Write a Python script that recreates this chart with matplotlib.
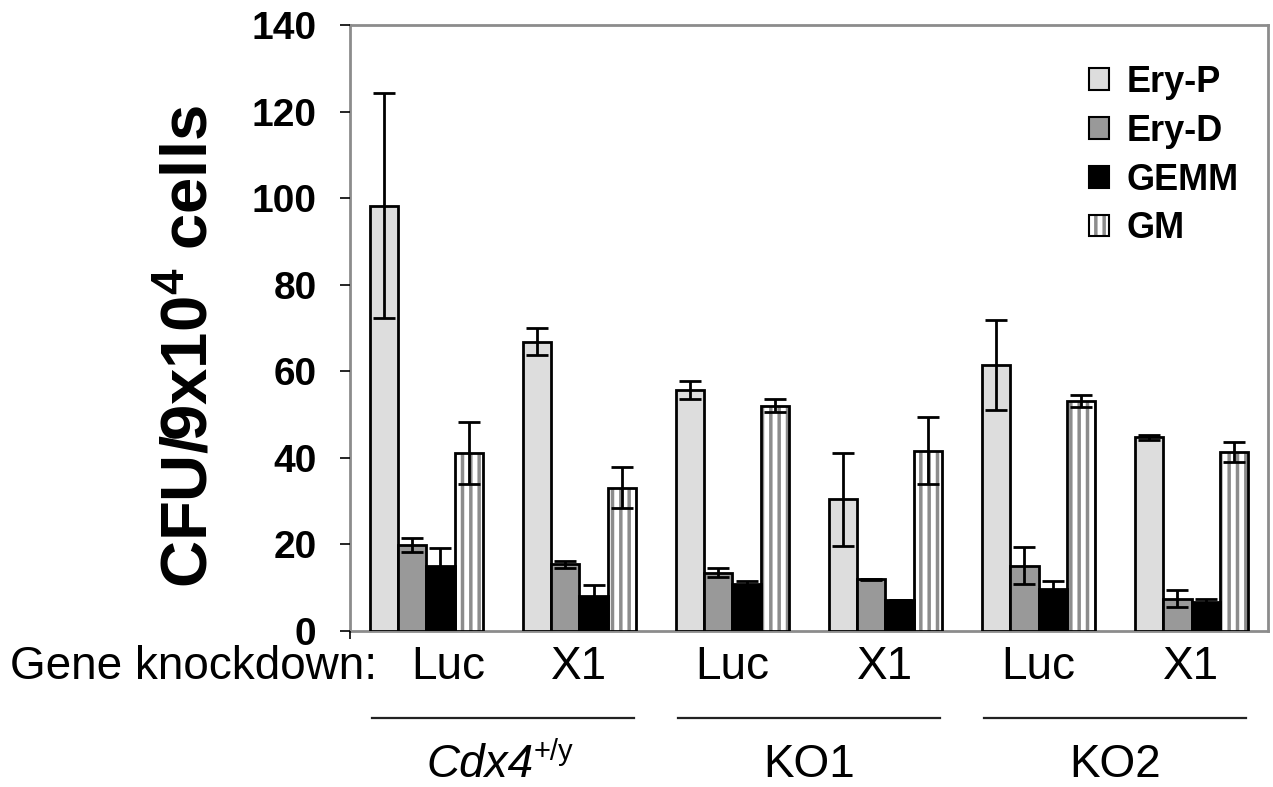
import numpy as np
import matplotlib
matplotlib.use('Agg')
import matplotlib.pyplot as plt
from matplotlib.patches import Patch
import matplotlib.transforms as mtransforms

plt.rcParams['font.family'] = ['Liberation Sans', 'DejaVu Sans']
plt.rcParams['mathtext.fontset'] = 'custom'
plt.rcParams['mathtext.rm'] = 'Liberation Sans'
plt.rcParams['mathtext.it'] = 'Liberation Sans:italic'
plt.rcParams['mathtext.bf'] = 'Liberation Sans:bold'
plt.rcParams['hatch.linewidth'] = 2.5

# colony counts per 9x10^4 cells, one entry per knockdown condition
genotypes = ['Cdx4', 'KO1', 'KO2']
knockdowns = ['Luc', 'X1', 'Luc', 'X1', 'Luc', 'X1']
series = ['Ery-P', 'Ery-D', 'GEMM', 'GM']

ery_p = [98.2, 66.8, 55.6, 30.4, 61.5, 44.8]
ery_p_err = [26.0, 3.1, 2.1, 10.7, 10.4, 0.6]
ery_d = [19.8, 15.4, 13.5, 12.0, 15.1, 7.5]
ery_d_err = [1.6, 0.8, 1.0, 0.1, 4.3, 2.0]
gemm = [15.0, 8.0, 10.8, 7.2, 9.7, 6.8]
gemm_err = [4.2, 2.7, 0.8, 0.0, 1.9, 0.7]
gm = [41.1, 33.1, 52.1, 41.7, 53.1, 41.3]
gm_err = [7.1, 4.7, 1.4, 7.7, 1.4, 2.3]

values = [ery_p, ery_d, gemm, gm]
errors = [ery_p_err, ery_d_err, gemm_err, gm_err]
fills = ['#dddddd', '#999999', '#000000', '#ffffff']
stripe = '#8c8c8c'

fig = plt.figure(figsize=(12.73, 7.87), dpi=100)
ax = fig.add_axes([0.2749, 0.1982, 0.7212, 0.7700])

x = np.arange(len(knockdowns))
w = 0.1835
for i in range(len(series)):
    xs = x + (i - 1.5) * w
    if series[i] == 'GM':
        # striped fill first, black outline on top
        ax.bar(xs, values[i], w, color='white', edgecolor=stripe,
               hatch='||', linewidth=0, zorder=2)
        ax.bar(xs, values[i], w, fill=False, edgecolor='black',
               linewidth=2, zorder=3)
    else:
        ax.bar(xs, values[i], w, color=fills[i], edgecolor='black',
               linewidth=2, zorder=3)
    ax.errorbar(xs, values[i], yerr=errors[i], fmt='none', ecolor='black',
                elinewidth=2, capsize=8, capthick=2, zorder=4)

ax.set_xlim(-0.5, 5.5)
ax.set_ylim(0, 140)
ax.set_yticks(np.arange(0, 141, 20))
ax.set_yticklabels([str(v) for v in range(0, 141, 20)],
                   fontsize=28, fontweight='bold')
ax.tick_params(axis='y', length=7, width=1.2, pad=17, color='black')
ax.set_xticks([-0.5])
ax.set_xticklabels([''])
ax.tick_params(axis='x', length=6, width=1.2, color='black')
for s in ax.spines.values():
    s.set_color(stripe)
    s.set_linewidth(2)
    s.set_zorder(1)

fig.text(190 / 1273, 0.559, 'CFU/9x10$^\\mathbf{4}$ cells', rotation=90,
         ha='center', va='center', fontsize=47, fontweight='bold')

# knockdown labels under each bar group
trans = mtransforms.blended_transform_factory(ax.transData, fig.transFigure)
for i, lab in enumerate(knockdowns):
    xi = x[i] + (0.14 if i == 0 else 0)
    ax.text(xi, 0.153, lab, transform=trans, ha='center', va='center',
            fontsize=33)
fig.text(0.008, 0.153, 'Gene knockdown:', ha='left', va='center', fontsize=33)

# genotype brackets
for g in range(len(genotypes)):
    c = 2 * g + 0.5
    ax.plot([c - 0.855, c + 0.855], [0.0877, 0.0877], transform=trans,
            color='#222222', lw=1.6, clip_on=False)
    if genotypes[g] == 'Cdx4':
        ax.text(c + 0.2, 0.028, 'Cdx4', transform=trans, ha='right',
                va='center', fontsize=33, fontstyle='italic')
        ax.text(c + 0.2, 0.045, '+/y', transform=trans, ha='left',
                va='center', fontsize=21)
    else:
        ax.text(c, 0.028, genotypes[g], transform=trans, ha='center',
                va='center', fontsize=33)

handles = [Patch(facecolor=fills[0], edgecolor='black', linewidth=1.5),
           Patch(facecolor=fills[1], edgecolor='black', linewidth=1.5),
           Patch(facecolor=fills[2], edgecolor='black', linewidth=1.5),
           (Patch(facecolor='white', edgecolor=stripe, hatch='||', linewidth=0),
            Patch(fill=False, edgecolor='black', linewidth=1.5))]
fig.legend(handles, series, loc='upper left',
           bbox_to_anchor=(1071 / 1273, 1 - 47 / 787), frameon=False,
           prop={'weight': 'bold', 'size': 26}, handlelength=0.55,
           handleheight=0.55, handletextpad=0.5, labelspacing=0.38,
           borderpad=0)

fig.savefig('out.png', dpi=100)
